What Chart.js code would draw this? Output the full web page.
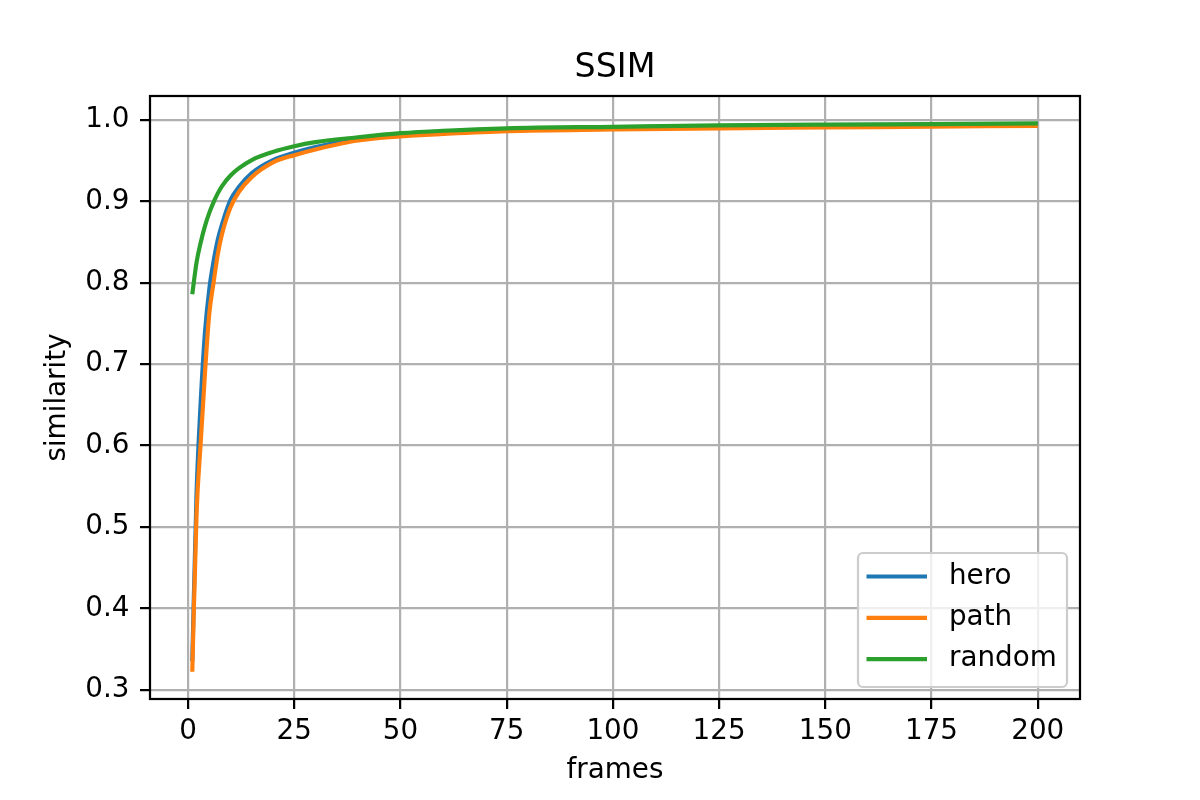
<!DOCTYPE html>
<html>
<head>
<meta charset="utf-8">
<script src="https://cdn.jsdelivr.net/npm/chart.js@4.4.1/dist/chart.umd.min.js"></script>
<style>
  html, body { margin: 0; padding: 0; background: #fff; }
  #wrap { width: 1200px; height: 800px; position: relative; }
</style>
</head>
<body>
<div id="wrap"><canvas id="js-chartjs-ssim"></canvas></div>
<script>
// values
const frames = [1, 2, 3, 4, 5, 6, 7, 8, 10, 12, 15, 20, 25, 30, 40, 50, 60, 75, 100, 125, 150, 175, 200];
const hero = [0.335, 0.54, 0.655, 0.74, 0.792, 0.826, 0.853, 0.872, 0.902, 0.918, 0.935, 0.951, 0.960, 0.967, 0.977, 0.983, 0.986, 0.989, 0.991, 0.9928, 0.9938, 0.9945, 0.9952];
const path = [0.322, 0.515, 0.605, 0.69, 0.762, 0.80, 0.835, 0.86, 0.893, 0.912, 0.93, 0.948, 0.957, 0.964, 0.975, 0.980, 0.983, 0.9865, 0.9885, 0.990, 0.991, 0.992, 0.993];
const random = [0.786, 0.825, 0.850, 0.870, 0.886, 0.899, 0.910, 0.919, 0.932, 0.941, 0.951, 0.961, 0.968, 0.973, 0.979, 0.984, 0.987, 0.990, 0.9918, 0.9935, 0.9945, 0.9952, 0.996];
const xTicks = [0, 25, 50, 75, 100, 125, 150, 175, 200];
const yTicks = [0.3, 0.4, 0.5, 0.6, 0.7, 0.8, 0.9, 1.0];
const seriesNames = ["hero", "path", "random"];
const seriesColors = ["#1f77b4", "#ff7f0e", "#2ca02c"];
const chartTitle = "SSIM";

const FONT = "'DejaVu Sans', sans-serif";
const px = 200 / 72; // matplotlib points at 200 dpi

const toPoints = (values) => frames.map((f, i) => ({ x: f, y: values[i] }));

// box round the axes, like the matplotlib spines, plus the title over the axes
const frameBox = {
  id: "frameBox",
  afterDatasetsDraw(chart) {
    const { ctx, chartArea: a } = chart;
    ctx.save();
    ctx.strokeStyle = "#000";
    ctx.lineWidth = 0.8 * px;
    ctx.strokeRect(a.left, a.top, a.right - a.left, a.bottom - a.top);
    ctx.font = `${12 * px}px ${FONT}`;
    ctx.fillStyle = "#000";
    ctx.textAlign = "center";
    ctx.textBaseline = "alphabetic";
    ctx.fillText(chartTitle, (a.left + a.right) / 2, a.top - 18.7);
    ctx.restore();
  }
};

// legend inside the plot, bottom right
const innerLegend = {
  id: "innerLegend",
  afterDraw(chart) {
    const { ctx, chartArea: a } = chart;
    const w = 209, h = 134, r = 5;
    const x0 = a.right - 13 - w, y0 = a.bottom - 12 - h;
    ctx.save();
    ctx.beginPath();
    ctx.roundRect(x0, y0, w, h, r);
    ctx.fillStyle = "rgba(255,255,255,0.8)";
    ctx.fill();
    ctx.strokeStyle = "#cccccc";
    ctx.lineWidth = 0.8 * px;
    ctx.stroke();
    ctx.font = `${10 * px}px ${FONT}`;
    ctx.textBaseline = "middle";
    ctx.fillStyle = "#000";
    seriesNames.forEach((name, i) => {
      const y = y0 + 23.5 + i * 41.3;
      ctx.beginPath();
      ctx.moveTo(x0 + 8.5, y);
      ctx.lineTo(x0 + 69, y);
      ctx.strokeStyle = seriesColors[i];
      ctx.lineWidth = 1.5 * px;
      ctx.stroke();
      ctx.fillText(name, x0 + 91, y);
    });
    ctx.restore();
  }
};

const tickFont = { family: FONT, size: 10 * px };

new Chart(document.getElementById("js-chartjs-ssim"), {
  type: "line",
  data: {
    datasets: seriesNames.map((name, i) => ({
      label: name,
      data: toPoints([hero, path, random][i]),
      borderColor: seriesColors[i],
      backgroundColor: seriesColors[i],
      borderWidth: 1.5 * px,
      pointRadius: 0,
      cubicInterpolationMode: "monotone",
      order: 2 - i
    }))
  },
  options: {
    responsive: true,
    maintainAspectRatio: false,
    devicePixelRatio: 1,
    animation: false,
    layout: { padding: { top: 96, right: 120, left: 0, bottom: 0 } },
    plugins: {
      legend: { display: false },
      tooltip: { enabled: false },
      title: { display: false }
    },
    scales: {
      x: {
        type: "linear",
        min: -8.95,
        max: 209.95,
        afterBuildTicks: (s) => { s.ticks = xTicks.map((v) => ({ value: v })); },
        afterFit: (s) => { s.height = 101; },
        ticks: { color: "#000", font: tickFont, padding: 6.5, maxRotation: 0, autoSkip: false, callback: (v) => String(v) },
        grid: { color: "#b0b0b0", lineWidth: 0.8 * px, tickColor: "#000", tickLength: 10, tickWidth: 0.8 * px },
        border: { display: false },
        title: { display: true, text: "frames", color: "#000", font: tickFont, padding: { top: 0, bottom: 12.3 } }
      },
      y: {
        type: "linear",
        min: 0.2885,
        max: 1.0297,
        afterBuildTicks: (s) => { s.ticks = yTicks.map((v) => ({ value: v })); },
        afterFit: (s) => { s.width = 150; },
        ticks: { color: "#000", font: tickFont, padding: 10.5, callback: (v) => v.toFixed(1) },
        grid: { color: "#b0b0b0", lineWidth: 0.8 * px, tickColor: "#000", tickLength: 10, tickWidth: 0.8 * px },
        border: { display: false },
        title: { display: true, text: "similarity", color: "#000", font: tickFont, padding: { top: 40.7, bottom: 0 } }
      }
    }
  },
  plugins: [frameBox, innerLegend]
});
</script>
</body>
</html>
